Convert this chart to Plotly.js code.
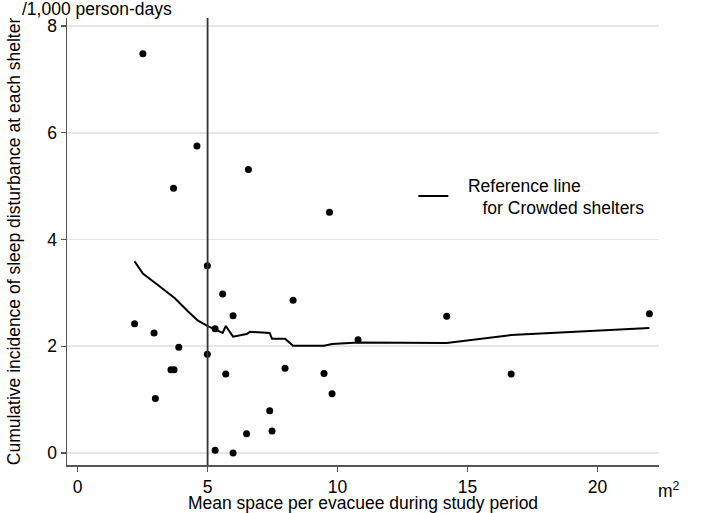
<!DOCTYPE html>
<html>
<head>
<meta charset="utf-8">
<script src="https://cdn.plot.ly/plotly-3.0.1.min.js"></script>
<style>html,body{margin:0;padding:0;background:#fff;}#chart{width:701px;height:513px;}</style>
</head>
<body>
<div id="chart"></div>
<script>
// Shelter data: mean space per evacuee (m2) and cumulative incidence (/1,000 person-days)
var spaceX = [2.19, 2.51, 2.94, 2.99, 3.59, 3.69, 3.71, 3.89, 4.59, 4.99, 4.99, 5.29, 5.29, 5.58, 5.70, 5.98, 5.98, 6.50, 6.57, 7.39, 7.48, 7.98, 8.29, 9.48, 9.69, 9.79, 10.79, 14.20, 16.68, 22.0];
var incidenceY = [2.42, 7.48, 2.25, 1.02, 1.56, 4.96, 1.56, 1.98, 5.75, 3.51, 1.85, 2.33, 0.05, 2.98, 1.48, 2.57, 0.0, 0.36, 5.31, 0.79, 0.41, 1.59, 2.86, 1.49, 4.51, 1.11, 2.12, 2.56, 1.48, 2.61];

// Reference line for crowded shelters
var refLineX = [2.19, 2.51, 3.16, 3.74, 4.25, 4.63, 4.99, 5.29, 5.58, 5.70, 5.98, 6.50, 6.63, 7.39, 7.48, 7.98, 8.29, 9.48, 9.79, 10.79, 14.20, 16.68, 22.0];
var refLineY = [3.59, 3.36, 3.12, 2.90, 2.65, 2.48, 2.38, 2.31, 2.25, 2.38, 2.18, 2.23, 2.27, 2.25, 2.14, 2.14, 2.01, 2.01, 2.04, 2.07, 2.06, 2.21, 2.34];

// Crowding cut-off (m2)
var cutoffX = 5;

var xTicks = [0, 5, 10, 15, 20];
var yTicks = [0, 2, 4, 6, 8];

var FONT = '"Liberation Sans", Arial, sans-serif';
var FS = 17.5;
var AXISCOL = '#555555';
var NB = '\u00a0';

var traces = [
  {
    x: spaceX, y: incidenceY, type: 'scatter', mode: 'markers',
    marker: {color: '#000000', size: 7},
    showlegend: false, hoverinfo: 'x+y'
  },
  {
    x: refLineX, y: refLineY, type: 'scatter', mode: 'lines',
    line: {color: '#000000', width: 2},
    name: NB + NB + NB + 'Reference line<br>' + NB + NB + NB + NB + NB + NB + 'for Crowded shelters',
    showlegend: true
  }
];

var layout = {
  width: 701, height: 513,
  paper_bgcolor: '#ffffff', plot_bgcolor: '#ffffff',
  font: {family: FONT, size: FS, color: '#000000'},
  margin: {l: 67, r: 42, t: 18, b: 48, autoexpand: false},
  showlegend: true,
  legend: {
    x: 0.585, y: 0.667, xanchor: 'left', yanchor: 'top',
    bgcolor: 'rgba(0,0,0,0)', borderwidth: 0,
    font: {family: FONT, size: FS, color: '#000000'},
    valign: 'middle'
  },
  xaxis: {
    range: [-0.41, 22.37], tickvals: xTicks, ticktext: xTicks.map(String),
    showline: true, linecolor: AXISCOL, linewidth: 1.5,
    ticks: 'outside', ticklen: 5, tickwidth: 1.2, tickcolor: AXISCOL,
    showgrid: false, zeroline: false, automargin: false,
    tickfont: {family: FONT, size: FS, color: '#000000'},
    title: {text: 'Mean space per evacuee during study period', font: {family: FONT, size: FS, color: '#000000'}, standoff: 0}
  },
  yaxis: {
    range: [-0.225, 8.15], tickvals: yTicks, ticktext: yTicks.map(String),
    showline: true, linecolor: AXISCOL, linewidth: 1.5,
    ticks: 'outside', ticklen: 5, tickwidth: 1.2, tickcolor: AXISCOL,
    showgrid: true, gridcolor: '#e6e6e6', gridwidth: 1.5,
    zeroline: false, automargin: false,
    tickfont: {family: FONT, size: FS, color: '#000000'},
    title: {text: 'Cumulative incidence of sleep disturbance at each shelter', font: {family: FONT, size: FS, color: '#000000'}, standoff: 22}
  },
  shapes: [
    {type: 'line', xref: 'x', yref: 'paper', x0: cutoffX, x1: cutoffX, y0: 0, y1: 1,
     line: {color: '#333333', width: 1.8}}
  ],
  annotations: [
    {text: '/1,000 person-days', xref: 'paper', yref: 'paper', x: -0.079, y: 1.02,
     xanchor: 'left', yanchor: 'middle', showarrow: false,
     font: {family: FONT, size: FS, color: '#000000'}},
    {text: 'm<sup>2</sup>', xref: 'paper', yref: 'paper', x: 1.017, y: -0.056,
     xanchor: 'center', yanchor: 'middle', showarrow: false,
     font: {family: FONT, size: FS, color: '#000000'}}
  ]
};

Plotly.newPlot('chart', traces, layout, {staticPlot: true, displayModeBar: false});
</script>
</body>
</html>
